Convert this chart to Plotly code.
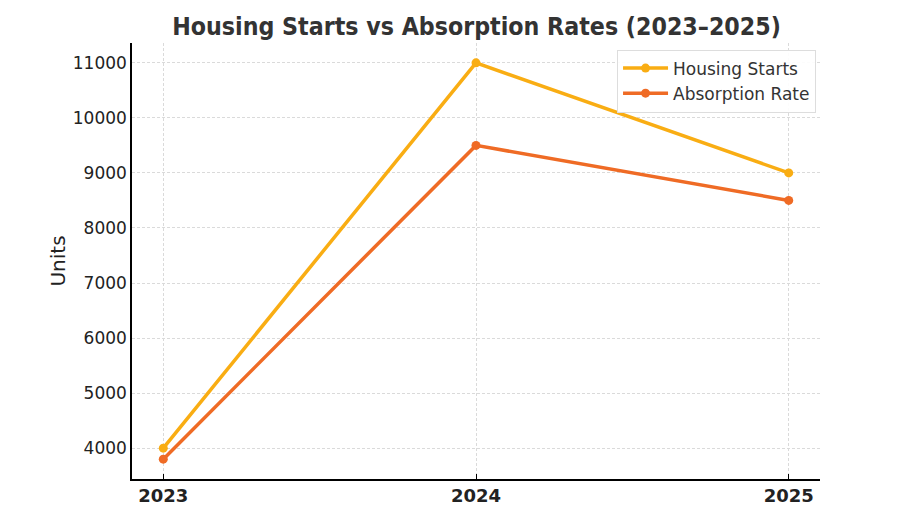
import plotly.graph_objects as go

years = [2023, 2024, 2025]
housing_starts = [4000, 11000, 9000]
absorption_rate = [3800, 9500, 8500]
y_ticks = [4000, 5000, 6000, 7000, 8000, 9000, 10000, 11000]

fig = go.Figure()
fig.add_trace(go.Scatter(x=years, y=housing_starts, name="Housing Starts", mode="lines+markers",
                         line=dict(color="#F9AD13", width=3.5), marker=dict(size=9, color="#F9AD13")))
fig.add_trace(go.Scatter(x=years, y=absorption_rate, name="Absorption Rate", mode="lines+markers",
                         line=dict(color="#EF6B25", width=3.5), marker=dict(size=9, color="#EF6B25")))

fig.update_layout(
    width=905, height=510,
    margin=dict(l=124, r=93, t=35, b=39),
    paper_bgcolor="white", plot_bgcolor="white",
    title=dict(text="<b>Housing Starts vs Absorption Rates (2023–2025)</b>",
               font=dict(family="DejaVu Sans Condensed, DejaVu Sans", size=24.7, color="#333333"),
               x=0.5177, xanchor="center", y=0.981, yanchor="top"),
    font=dict(family="DejaVu Sans", color="#222222"),
    legend=dict(x=0.705, y=0.985, xanchor="left", yanchor="top",
                bgcolor="rgba(255,255,255,0.9)", bordercolor="#DDDDDD", borderwidth=1,
                font=dict(size=17, color="#333333"), itemwidth=45, tracegroupgap=2),
    showlegend=True,
)
fig.update_xaxes(range=[2022.9, 2025.1], tickvals=years, ticktext=[f"<b>{y}</b>" for y in years],
                 tickfont=dict(size=18, color="#222222"), automargin=False,
                 showline=True, linecolor="black", linewidth=1.5, mirror=False,
                 ticks="inside", ticklen=5, tickcolor="black",
                 showgrid=True, gridcolor="#DADADA", griddash="3px,2px", gridwidth=1, zeroline=False)
fig.update_yaxes(range=[3440, 11360], tickvals=y_ticks, ticktext=[str(v) for v in y_ticks],
                 tickfont=dict(size=17, color="#222222"), automargin=False,
                 title=dict(text="Units", font=dict(size=20, color="#222222"), standoff=2),
                 showline=True, linecolor="black", linewidth=1.5,
                 ticks="", showgrid=True, gridcolor="#DADADA", griddash="3px,2px", gridwidth=1, zeroline=False)

fig.write_html("out.html")
